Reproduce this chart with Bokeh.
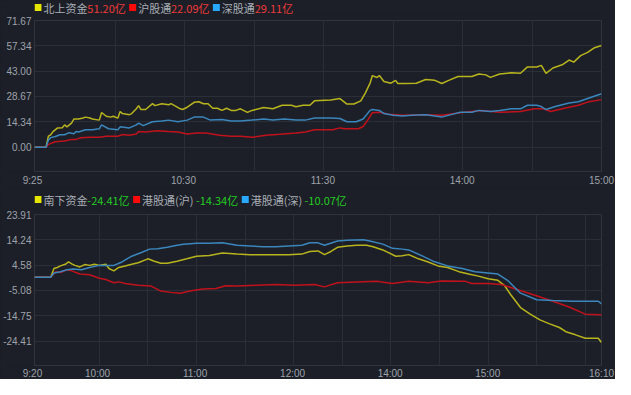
from bokeh.plotting import figure
from bokeh.models import Range1d, FixedTicker, NumeralTickFormatter, Label
from bokeh.core.properties import value
from bokeh.layouts import column, row
from bokeh.embed import file_html
from bokeh.resources import INLINE

# ---------------- data: top chart (北向), minutes of trading time from 9:25 (11:30 == 13:00)
top_tick_pos = [0, 65, 125, 185, 245]
top_tick_labels = ["9:25", "10:30", "11:30", "14:00", "15:00"]
top_grid_pos = [35, 65, 95, 125, 155, 185, 215]
top_y_ticks = [0.00, 14.34, 28.67, 43.00, 57.34, 71.67]

north_t = [0,5,6,7,8,10,12,13,14,16,17,19,21,22,24,25,28,29,31,33,34,36,37,38,41,42,44,45,46,48,51,52,55,58,59,63,64,66,69,71,73,75,77,79,81,83,85,87,89,92,94,99,103,107,111,113,116,119,121,128,132,135,138,141,143,145,146,148,149,151,154,156,157,160,165,169,173,176,179,183,186,189,192,195,197,201,206,210,213,217,219,221,224,228,231,233,236,239,242,245]
north_v = [0,0,6.2,7.0,8.8,10.9,11.0,12.6,11.5,13.6,15.9,15.9,16.5,17.0,16.5,15.9,15.3,19.6,17.5,17.0,17.5,16.4,20.2,19.0,18.4,19.0,21.7,23.5,21.3,21.3,24.6,23.5,24.6,24.0,24.6,21.7,21.3,22.6,25.4,25.7,24.6,24.6,22.0,22.0,20.8,22.0,20.8,20.8,21.7,19.7,20.8,22.4,21.7,23.7,23.7,22.9,23.7,23.7,26.2,26.7,27.5,24.4,24.4,26.2,30.7,36.2,40.5,39.4,40.5,37.2,36.2,37.8,36.0,36.0,36.2,38.3,37.8,36.0,37.8,40.0,40.0,40.0,41.4,40.9,39.5,41.4,42.1,41.8,45.4,45.4,46.3,41.8,44.8,46.6,49.3,48.1,51.8,53.6,56.3,57.5]

sh_t = [0,5,6,9,13,16,18,20,24,28,31,36,38,41,44,45,48,53,58,62,66,70,74,80,85,89,94,100,106,113,117,121,129,132,134,140,142,144,146,149,153,159,168,176,184,193,201,210,216,220,223,229,235,239,245]
sh_v = [0,0,1.6,3.1,3.5,4.4,4.4,5.3,5.6,5.6,6.2,6.2,7.1,6.8,7.4,8.9,8.6,9.3,8.9,8.6,7.4,8.0,8.0,6.8,6.2,6.2,5.6,6.8,7.3,8.0,8.6,9.9,9.9,10.9,10.4,10.4,11.7,15.3,19.5,19.7,18.6,18.0,18.4,18.0,19.5,20.8,19.7,20.2,21.7,21.7,20.2,22.0,23.7,25.5,26.9]

sz_t = [0,5,6,7,9,11,13,15,17,18,19,22,25,28,29,32,36,37,41,44,45,47,51,55,58,62,66,69,73,76,81,85,89,94,99,103,108,113,117,121,128,132,135,139,142,145,146,149,151,155,159,163,169,176,180,184,189,192,197,201,206,210,213,217,219,221,225,231,235,239,245]
sz_v = [0,0,4.0,5.4,6.0,7.0,7.0,8.2,7.6,8.8,8.6,9.8,9.8,10.4,12.6,10.4,9.8,11.5,10.9,12.6,13.6,12.2,14.4,14.8,15.3,14.4,15.3,17.0,17.0,15.3,15.6,14.8,14.8,15.3,15.9,15.3,15.9,15.3,15.3,16.5,16.5,16.2,14.4,14.4,15.9,20.8,21.3,20.8,19.0,18.0,17.6,18.0,18.4,17.0,18.4,19.7,19.7,20.8,20.2,20.8,21.7,21.7,23.7,23.7,23.0,21.3,23.0,25.0,25.7,27.5,30.2]

top_names = ["北上资金", "沪股通", "深股通"]
top_totals = ["51.20亿", "22.09亿", "29.11亿"]

# ---------------- data: bottom chart (南向), minutes of trading time from 9:20 (12:00 == 13:00)
bot_tick_pos = [0, 40, 100, 160, 220, 280, 350]
bot_tick_labels = ["9:20", "10:00", "11:00", "12:00", "14:00", "15:00", "16:10"]
bot_grid_pos = [40, 70, 100, 130, 160, 190, 220, 250, 280, 310, 340]
bot_y_ticks = [-24.41, -14.75, -5.08, 4.58, 14.24, 23.91]

south_t = [0,10,12,14,16,19,21,23,25,28,31,34,37,40,44,46,49,52,56,60,64,70,74,78,82,88,94,100,108,116,125,133,141,149,157,165,170,175,179,183,187,193,199,205,209,215,223,227,231,237,243,249,255,262,268,274,280,286,290,294,300,306,312,318,324,328,334,340,344,348,350]
south_v = [0,0,3.3,3.7,4.3,4.9,5.8,5.1,4.5,3.9,4.8,4.5,4.9,4.5,4.9,3.3,2.4,3.7,4.3,4.9,5.5,7.0,6.1,5.3,5.3,6.1,7.0,8.0,8.3,9.2,8.8,8.6,8.6,8.6,8.6,8.8,9.8,10.0,8.6,9.8,11.4,11.9,12.2,12.2,11.6,10.4,8.0,8.2,8.6,7.0,5.8,4.3,3.7,2.1,1.2,0.4,-0.6,-1.2,-3.1,-6.7,-11.6,-14.1,-16.3,-17.8,-19.2,-20.8,-22.0,-23.3,-23.3,-23.3,-24.9]

hksh_t = [0,10,13,16,20,23,28,34,40,44,49,52,56,64,72,78,84,90,96,104,112,118,125,137,149,161,173,179,187,199,211,221,231,243,251,266,270,280,288,296,308,320,330,340,350]
hksh_v = [0,0,2.1,1.8,2.8,2.4,1.2,0.9,-0.4,-0.9,-2.1,-1.8,-2.4,-3.1,-3.4,-5.3,-5.8,-6.1,-5.3,-4.5,-4.3,-3.3,-3.4,-3.1,-2.8,-3.1,-2.8,-3.7,-2.1,-1.8,-1.6,-2.4,-1.6,-2.1,-1.5,-1.6,-2.4,-2.4,-2.8,-4.3,-6.7,-9.2,-11.4,-14.1,-14.3]

hksz_t = [0,10,12,16,20,24,29,34,40,46,49,54,60,66,71,76,82,88,92,100,108,116,125,133,141,149,157,165,170,175,179,187,193,203,207,215,221,227,231,239,246,255,264,272,280,286,292,300,310,320,332,340,348,350]
hksz_v = [0,0,1.6,2.1,2.8,3.1,2.8,3.7,4.5,4.5,4.5,5.8,8.0,9.4,10.7,10.8,11.4,12.2,12.6,12.9,12.9,13.1,12.2,11.9,11.6,11.6,11.9,12.2,13.1,13.1,12.2,13.8,14.1,14.3,13.8,12.6,11.0,10.7,10.4,8.2,6.1,4.3,3.3,2.1,1.6,1.2,-1.2,-6.1,-8.6,-8.9,-9.2,-9.2,-9.2,-10.2]

bot_names = ["南下资金", "港股通(沪)", "港股通(深)"]
bot_totals = ["-24.41亿", "-14.34亿", "-10.07亿"]

# ---------------- style
BG = "#1c1f27"
GRID = "#2a2e36"
OUTLINE = "#30343d"
TICK_TXT = "#9ea3ab"
LINE_COLORS = ["#b8b41e", "#c0121c", "#3a86bd"]
SQ_COLORS = ["#e6e600", "#ff0a0a", "#29a8ff"]
CJK = "Noto Sans CJK SC"
W = 615
LEFT = 32
RIGHT = 14
FRAME_W = W - LEFT - RIGHT
TICK_PAD_L = 16   # tick-label strips reach this far left of the chart frame


def strip(height, x_range, left, right):
    p = figure(width=W, height=height, output_backend="svg", toolbar_location=None, title=None,
               x_axis_location=None, y_axis_location=None,
               x_range=x_range, y_range=Range1d(0, height),
               min_border_left=left, min_border_right=right,
               min_border_top=0, min_border_bottom=0,
               background_fill_color=BG, border_fill_color=BG,
               outline_line_color=None, styles={"background-color": BG})
    p.grid.visible = False
    return p


def make_chart(height, x_end, y_range, grid_pos, y_ticks):
    p = figure(width=W, height=height, output_backend="svg", toolbar_location=None, title=None,
               x_axis_location=None,
               x_range=Range1d(0, x_end), y_range=Range1d(*y_range),
               min_border_left=LEFT, min_border_right=RIGHT, min_border_top=6,
               min_border_bottom=0, background_fill_color=BG, border_fill_color=BG,
               outline_line_color=OUTLINE, outline_line_width=1,
               styles={"background-color": BG})
    p.yaxis.ticker = FixedTicker(ticks=y_ticks)
    p.yaxis.formatter = NumeralTickFormatter(format="0.00")
    ax = p.yaxis
    ax.axis_label = None
    ax.axis_line_color = None
    ax.major_tick_line_color = None
    ax.minor_tick_line_color = None
    ax.major_tick_out = 0
    ax.major_tick_in = 0
    ax.minor_tick_out = 0
    ax.minor_tick_in = 0
    ax.major_label_text_color = TICK_TXT
    ax.major_label_text_font = "Liberation Sans"
    ax.major_label_text_font_size = "10px"
    ax.major_label_standoff = 3
    p.xgrid.ticker = FixedTicker(ticks=grid_pos)
    p.ygrid.ticker = FixedTicker(ticks=y_ticks)
    p.xgrid.grid_line_color = GRID
    p.ygrid.grid_line_color = GRID
    return p


def make_ticks(height, x_end, tick_pos, tick_labels):
    # x-axis tick labels of a chart; the strip extends past the chart frame on both sides,
    # its range is the chart's range widened by the same number of pixels
    k = x_end / FRAME_W
    xr = Range1d(-TICK_PAD_L * k, x_end + RIGHT * k)
    p = strip(height, xr, LEFT - TICK_PAD_L, 0)
    for t, lab in zip(tick_pos, tick_labels):
        p.add_layout(Label(x=t, y=height / 2, text=lab, text_align="center",
                           text_baseline="middle", text_font="Liberation Sans",
                           text_font_size="10px", text_color=TICK_TXT))
    return row(p, styles={"background-color": BG})


def make_legend(height, y_center, names, totals, total_color, name_widths, total_widths):
    # data units equal screen pixels from the frame's left
    p = strip(height, Range1d(0, FRAME_W), LEFT, RIGHT)
    yc = height - y_center
    sq_x, name_x, total_x = [], [], []
    x = 0
    for nw, tw in zip(name_widths, total_widths):
        sq_x.append(x + 3.5)
        name_x.append(x + 9)
        total_x.append(x + 9 + nw)
        x = x + 9 + nw + tw + 4
    p.rect(x=sq_x, y=[yc] * 3, width=7, height=7, fill_color=SQ_COLORS, line_color=None)
    p.text(x=name_x, y=[yc] * 3, text=names, text_font=value(CJK), text_font_size="11px",
           text_color="#a9aeb6", text_baseline="middle", text_align="left")
    p.text(x=total_x, y=[yc] * 3, text=totals, text_font=value(CJK), text_font_size="11px",
           text_color=total_color, text_baseline="middle", text_align="left")
    return p


top_leg = make_legend(14, 7, top_names, top_totals, "#ee3a3a", [44, 33, 33], [38, 38, 38])
top = make_chart(158, 245, (-14.34, 71.67), top_grid_pos, top_y_ticks)
top.line(north_t, north_v, line_color=LINE_COLORS[0], line_width=1.5)
top.line(sh_t, sh_v, line_color=LINE_COLORS[1], line_width=1.5)
top.line(sz_t, sz_v, line_color=LINE_COLORS[2], line_width=1.5)
top_x = make_ticks(16, 245, top_tick_pos, top_tick_labels)

bot_leg = make_legend(20, 11, bot_names, bot_totals, "#22cc22", [44, 54, 54], [42, 42, 42])
bot = make_chart(158, 350, (-34.08, 23.91), bot_grid_pos, bot_y_ticks)
bot.line(south_t, south_v, line_color=LINE_COLORS[0], line_width=1.5)
bot.line(hksh_t, hksh_v, line_color=LINE_COLORS[1], line_width=1.5)
bot.line(hksz_t, hksz_v, line_color=LINE_COLORS[2], line_width=1.5)
bot_x = make_ticks(13, 350, bot_tick_pos, bot_tick_labels)

layout = column(top_leg, top, top_x, bot_leg, bot, bot_x, spacing=0,
                styles={"background-color": BG})
open("out.html", "w").write(file_html(layout, INLINE))
